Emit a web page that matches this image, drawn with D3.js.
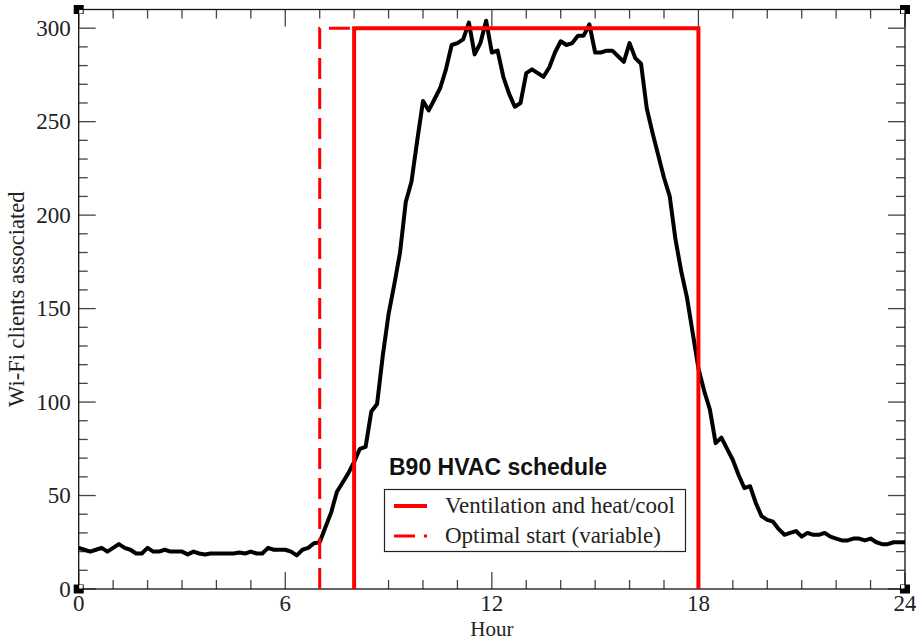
<!DOCTYPE html>
<html>
<head>
<meta charset="utf-8">
<script src="https://cdn.jsdelivr.net/npm/d3@7"></script>
<style>
  body { margin: 0; background: #fff; }
  svg { display: block; }
</style>
</head>
<body>
<script>
// Wi-Fi clients, one value every 10 minutes from 0h to 24h
const stepMinutes = 10;
const clients = [
  22, 21, 20, 21, 22, 20, 22, 24, 22, 21, 19, 19, 22, 20, 20, 21, 20, 20, 20, 18.5,
  20, 19, 18.5, 19, 19, 19, 19, 19, 19.5, 19, 20, 19, 19, 22, 21, 21, 21, 20, 18, 21,
  22, 24.5, 25, 33, 41, 52, 57, 62, 68, 75, 76, 95, 99, 125, 147, 163, 180, 207, 218, 240,
  261, 256, 262, 268, 278, 291, 292, 294, 303, 286, 292, 304, 287, 288, 274, 265, 258, 260, 276, 278,
  276, 274, 279, 287, 293, 291, 292, 296, 296, 302, 287, 287, 288, 288, 285, 282, 292, 284, 281, 257,
  244, 232, 220, 210, 187, 170, 156, 137, 118, 106, 96, 78, 81, 75, 69, 61, 54, 55, 46, 39,
  37, 36, 32, 29, 30, 31, 28, 30, 29, 29, 30, 28, 27, 26, 26, 27, 27, 26, 27, 25,
  24, 24, 25, 25, 25
];

// HVAC schedule (hour, level)
const ventilation = [[8, 0], [8, 300], [18, 300], [18, 0]];
const optimalStart = [[7, 0], [7, 300], [8, 300]];

const xTicksMajor = [0, 6, 12, 18, 24];
const yTicksMajor = [0, 50, 100, 150, 200, 250, 300];

const legendTitle = "B90 HVAC schedule";
const legendItems = ["Ventilation and heat/cool", "Optimal start (variable)"];

const largeur = 916, hauteur = 641;
const marges = { top: 9.5, right: 11, bottom: 52, left: 78.7 };

const svg = d3.select("body").append("svg")
  .attr("width", largeur)
  .attr("height", hauteur);

const x = d3.scaleLinear().domain([0, 24]).range([marges.left, largeur - marges.right]);
const y = d3.scaleLinear().domain([0, 310]).range([hauteur - marges.bottom, marges.top]);

const serif = "'Liberation Serif', 'Times New Roman', serif";

// ticks: minors every hour / every 10, majors longer
const tickColor = "#444";
const gTicks = svg.append("g").attr("stroke", tickColor).attr("stroke-width", 1.3);
d3.range(0, 25).forEach(h => {
  const len = xTicksMajor.includes(h) ? 17 : 9;
  gTicks.append("line").attr("x1", x(h)).attr("x2", x(h))
    .attr("y1", y(0)).attr("y2", y(0) - len);
  gTicks.append("line").attr("x1", x(h)).attr("x2", x(h))
    .attr("y1", y(310)).attr("y2", y(310) + len);
});
d3.range(0, 310, 10).forEach(v => {
  const len = yTicksMajor.includes(v) ? 17 : 9;
  gTicks.append("line").attr("y1", y(v)).attr("y2", y(v))
    .attr("x1", x(0)).attr("x2", x(0) + len);
  gTicks.append("line").attr("y1", y(v)).attr("y2", y(v))
    .attr("x1", x(24)).attr("x2", x(24) - len);
});

// frame
svg.append("rect")
  .attr("x", x(0)).attr("y", y(310))
  .attr("width", x(24) - x(0)).attr("height", y(0) - y(310))
  .attr("fill", "none").attr("stroke", "#111").attr("stroke-width", 1.3);

// tick labels
svg.append("g").selectAll("text").data(xTicksMajor).join("text")
  .attr("x", d => x(d)).attr("y", y(0) + 22)
  .attr("text-anchor", "middle")
  .attr("font-family", serif).attr("font-size", 23).attr("fill", "#222")
  .text(d => d);

svg.append("g").selectAll("text").data(yTicksMajor).join("text")
  .attr("x", x(0) - 8).attr("y", d => y(d) + 7.5)
  .attr("text-anchor", "end")
  .attr("font-family", serif).attr("font-size", 23).attr("fill", "#222")
  .text(d => d);

// axis titles
svg.append("text")
  .attr("x", x(12)).attr("y", 636)
  .attr("text-anchor", "middle")
  .attr("font-family", serif).attr("font-size", 21).attr("fill", "#222")
  .text("Hour");

svg.append("text")
  .attr("transform", "translate(24," + y(155) + ") rotate(-90)")
  .attr("text-anchor", "middle")
  .attr("font-family", serif).attr("font-size", 22.5).attr("fill", "#222")
  .text("Wi-Fi clients associated");

// the Wi-Fi curve
const ligne = d3.line()
  .x((d, i) => x(i * stepMinutes / 60))
  .y(d => y(d));

svg.append("path")
  .datum(clients)
  .attr("d", ligne)
  .attr("fill", "none")
  .attr("stroke", "#000")
  .attr("stroke-width", 4)
  .attr("stroke-linejoin", "round");

// schedule lines
const ligneHoraire = d3.line().x(d => x(d[0])).y(d => y(d[1]));

svg.append("path")
  .datum(optimalStart)
  .attr("d", ligneHoraire)
  .attr("fill", "none")
  .attr("stroke", "#ff0000")
  .attr("stroke-width", 3)
  .attr("stroke-dasharray", "21,9");

svg.append("path")
  .datum(ventilation)
  .attr("d", ligneHoraire)
  .attr("fill", "none")
  .attr("stroke", "#ff0000")
  .attr("stroke-width", 4);

// corner markers
[[x(0), y(310), 1, 1], [x(24), y(310), -1, 1], [x(0), y(0), 1, -1], [x(24), y(0), -1, -1]]
  .forEach(([cx, cy, sx, sy]) => {
    svg.append("rect").attr("x", cx - 5).attr("y", cy - 4.5)
      .attr("width", 10).attr("height", 9).attr("fill", "#000");
    svg.append("rect")
      .attr("x", sx > 0 ? cx + 0.5 : cx - 4)
      .attr("y", sy > 0 ? cy + 0.5 : cy - 4)
      .attr("width", 3.5).attr("height", 3.5).attr("fill", "#fff");
  });

// legend
const leg = svg.append("g");
leg.append("text")
  .attr("x", 389).attr("y", 475)
  .attr("font-family", "'Liberation Sans', Arial, sans-serif")
  .attr("font-weight", "bold").attr("font-size", 23).attr("fill", "#111")
  .text(legendTitle);

leg.append("rect")
  .attr("x", 384.5).attr("y", 489.5).attr("width", 301).attr("height", 62)
  .attr("fill", "#fff").attr("stroke", "#222").attr("stroke-width", 1.2);

const legY = [506, 536];
leg.selectAll(".echantillon").data(legendItems).join("line")
  .attr("class", "echantillon")
  .attr("x1", 394).attr("x2", 427)
  .attr("y1", (d, i) => legY[i]).attr("y2", (d, i) => legY[i])
  .attr("stroke", "#ff0000")
  .attr("stroke-width", (d, i) => i === 0 ? 4 : 3)
  .attr("stroke-dasharray", (d, i) => i === 0 ? null : "21,9");

leg.selectAll(".libelle").data(legendItems).join("text")
  .attr("class", "libelle")
  .attr("x", 445).attr("y", (d, i) => legY[i] + 7)
  .attr("font-family", serif).attr("font-size", 23).attr("fill", "#222")
  .text(d => d);
</script>
</body>
</html>
